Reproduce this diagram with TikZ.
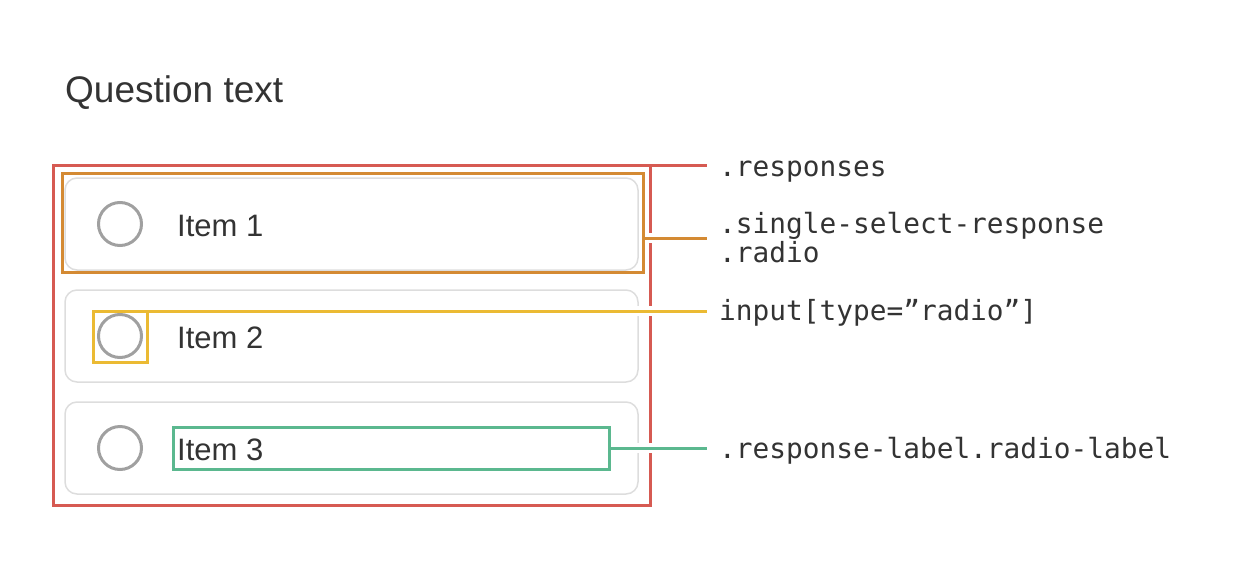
\documentclass[tikz,border=0pt]{standalone}
\usepackage{fontspec}
\setmainfont{Liberation Sans}
\setmonofont{DejaVu Sans Mono}
\usepackage{tikz}
\usetikzlibrary{positioning}

\definecolor{boxred}{HTML}{D65A52}
\definecolor{boxorange}{HTML}{D48A33}
\definecolor{boxyellow}{HTML}{EBBA33}
\definecolor{boxgreen}{HTML}{5BB88F}
\definecolor{radiogray}{HTML}{A0A0A0}
\definecolor{cardgray}{HTML}{DDDDDD}
\definecolor{inkgray}{HTML}{333333}

\begin{document}
\begin{tikzpicture}[x=1pt,y=-1pt,
		card/.style={draw=cardgray, line width=1.5pt, rounded corners=12pt, minimum width=573pt, minimum height=92pt, inner sep=0pt},
		radiobtn/.style={draw=radiogray, circle, line width=3pt, minimum size=43pt, inner sep=0pt},
		itemtext/.style={anchor=base west, inner sep=0pt, text=inkgray, font=\fontsize{31}{36}\selectfont},
		outline/.style={line width=3pt, inner sep=0pt, outer sep=0pt},
		tag/.style={anchor=base west, inner sep=0pt, text=inkgray, align=left, font=\ttfamily\fontsize{27.8}{29}\selectfont},
		wire/.style={line width=3pt, preaction={draw=white, line width=10pt}}]
				\useasboundingbox (0,0) rectangle (1248,560);
				\node[anchor=base west, inner sep=0pt, text=inkgray, font=\fontsize{37}{42}\selectfont] (question) at (65,102) {Question text};
				% the three responses
				\node[card] (card1) at (351.5,224) {};
				\node[card] (card2) at (351.5,336) {};
				\node[card] (card3) at (351.5,448) {};
				\node[radiobtn] (radio1) at (120,224) {};
				\node[radiobtn] (radio2) at (120,336) {};
				\node[radiobtn] (radio3) at (120,448) {};
				\node[itemtext] (item1) at (177,236) {Item 1};
				\node[itemtext] (item2) at (177,348) {Item 2};
				\node[itemtext] (item3) at (177,460) {Item 3};
				% outer box
				\node[outline, draw=boxred, minimum width=597pt, minimum height=340pt] (responses) at (351.5,335) {};
				% class names
				\node[tag] (tagresponses) at (719,176) {.responses};
				\node[tag] (tagsingle) at (719,262) {.single-select-response\\.radio};
				\node[tag] (taginput) at (719,320) {input[type=”radio”]};
				\node[tag] (taglabel) at (719,458) {.response-label.radio-label};
				\coordinate (endresponses) at (707,165);
				\coordinate (endsingle) at (707,238);
				\coordinate (endinput) at (707,311);
				\coordinate (endlabel) at (707,448);
				% leaders
				\draw[boxred, line width=3pt] (responses.north east) -- (endresponses);
				\node[outline, minimum width=581pt, minimum height=99pt] (single) at (352.5,222.5) {};
				\node[outline, minimum width=54pt, minimum height=51pt] (input) at (120,336.5) {};
				\node[outline, minimum width=436pt, minimum height=42pt] (label) at (391,448) {};
				\draw[wire, boxorange] (single.east |- endsingle) -- (endsingle);
				\draw[wire, boxyellow] (input.north east) -- (endinput);
				\draw[wire, boxgreen] (label.east |- endlabel) -- (endlabel);
				% inner boxes on top
				\draw[boxorange, line width=3pt] (single.south west) rectangle (single.north east);
				\draw[boxyellow, line width=3pt] (input.south west) rectangle (input.north east);
				\draw[boxgreen, line width=3pt] (label.south west) rectangle (label.north east);
			\end{tikzpicture}
\end{document}
